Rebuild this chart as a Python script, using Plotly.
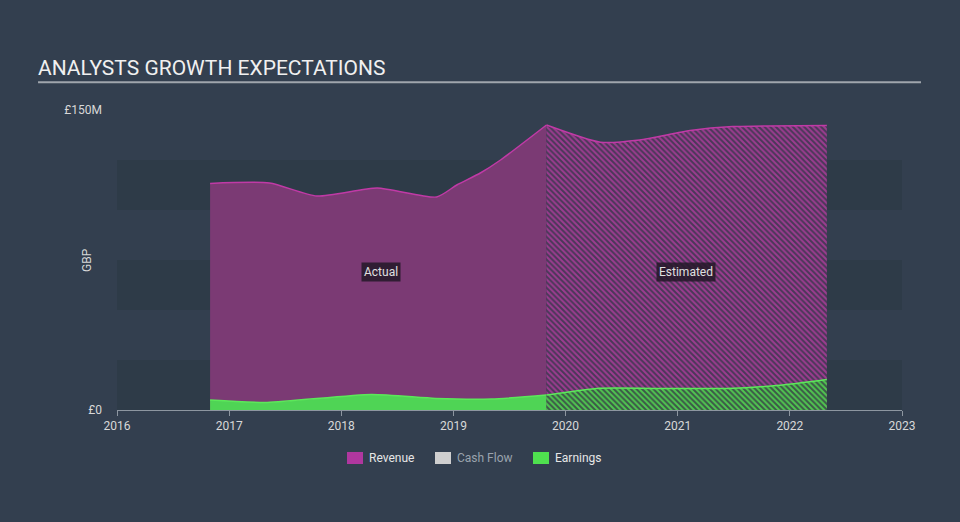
import plotly.graph_objects as go

# ---- data ----
rev_act_x = [2016.83, 2017.36, 2017.78, 2018.32, 2018.85, 2019.03, 2019.24, 2019.42, 2019.83]
rev_act_y = [113.3, 113.5, 107.0, 111.0, 106.5, 112.5, 118.5, 125.0, 142.5]
rev_est_x = [2019.83, 2020.31, 2020.66, 2021.11, 2021.49, 2022.33]
rev_est_y = [142.5, 133.9, 135.0, 139.7, 141.7, 142.3]
earn_act_x = [2016.83, 2017.34, 2018.27, 2018.84, 2019.34, 2019.83]
earn_act_y = [5.0, 3.8, 7.8, 5.8, 5.5, 7.5]
earn_est_x = [2019.83, 2020.28, 2020.8, 2021.44, 2021.91, 2022.33]
earn_est_y = [7.5, 10.8, 10.8, 10.8, 12.4, 15.3]
x_ticks = [2016, 2017, 2018, 2019, 2020, 2021, 2022, 2023]
y_ticks = [0, 150]
y_ticktext = ["£0", "£150M"]
bands = [(0, 25), (50, 75), (100, 125)]

BG = "#333f4f"
BAND = "#2e3b48"
REV_LINE = "#c03aa6"
REV_FILL = "#7b3a74"
EARN_LINE = "#5ce85a"
EARN_FILL = "#4fd455"
FONT = "Roboto"

fig = go.Figure()

fig.add_trace(go.Scatter(
    x=rev_act_x, y=rev_act_y, mode="lines", fill="tozeroy",
    line=dict(color=REV_LINE, width=1.5, shape="spline", smoothing=0.6),
    fillcolor=REV_FILL, showlegend=False, hoverinfo="skip"))
fig.add_trace(go.Scatter(
    x=rev_est_x, y=rev_est_y, mode="lines", fill="tozeroy",
    line=dict(color=REV_LINE, width=1.5, shape="spline", smoothing=0.6),
    fillpattern=dict(shape="\\", bgcolor="#4a3858", fgcolor="#9c3c90",
                     size=4, solidity=0.5, fillmode="replace"),
    showlegend=False, hoverinfo="skip"))
fig.add_trace(go.Scatter(
    x=earn_act_x, y=earn_act_y, mode="lines", fill="tozeroy",
    line=dict(color=EARN_LINE, width=1.5, shape="spline", smoothing=0.6),
    fillcolor=EARN_FILL, showlegend=False, hoverinfo="skip"))
fig.add_trace(go.Scatter(
    x=earn_est_x, y=earn_est_y, mode="lines", fill="tozeroy",
    line=dict(color=EARN_LINE, width=1.5, shape="spline", smoothing=0.6),
    fillpattern=dict(shape="\\", bgcolor="#3c5848", fgcolor="#50c650",
                     size=4, solidity=0.5, fillmode="replace"),
    showlegend=False, hoverinfo="skip"))

shapes = []
for y0, y1 in bands:
    shapes.append(dict(type="rect", xref="paper", yref="y", x0=0, x1=1, y0=y0, y1=y1,
                       fillcolor=BAND, line=dict(width=0), layer="below"))
# title underline
shapes.append(dict(type="line", xref="paper", yref="paper", x0=-0.1006, x1=1.0242,
                   y0=1.0925, y1=1.0925, line=dict(color="#a0a6ad", width=2)))
# custom legend swatches
leg = [("Revenue", "#b0379f", "#e6e6e6", 347), ("Cash Flow", "#cfcfcf", "#9aa3ad", 435),
       ("Earnings", "#4fe04f", "#e6e6e6", 533)]
annotations = []
for name, sw, tc, px in leg:
    x0 = (px - 117) / 785
    x1 = (px + 16 - 117) / 785
    shapes.append(dict(type="rect", xref="paper", yref="paper", x0=x0, x1=x1,
                       y0=(410 - 464) / 300, y1=(410 - 452) / 300,
                       fillcolor=sw, line=dict(width=0)))
    annotations.append(dict(xref="paper", yref="paper", x=(px + 20 - 117) / 785,
                            y=(410 - 458) / 300, text=name, showarrow=False,
                            xanchor="left", yanchor="middle",
                            font=dict(family=FONT, size=12, color=tc)))

annotations += [
    dict(xref="paper", yref="paper", x=(36 - 117) / 785, y=(410 - 68) / 300,
         text="ANALYSTS GROWTH EXPECTATIONS", showarrow=False, xanchor="left",
         yanchor="middle", font=dict(family=FONT, size=21, color="#f0f0f0")),
    dict(xref="paper", yref="paper", x=(87 - 117) / 785, y=(410 - 260) / 300,
         text="GBP", textangle=-90, showarrow=False, xanchor="center", yanchor="middle",
         font=dict(family=FONT, size=12, color="#d8d8d8")),
    dict(x=2018.35, y=69, text="Actual", showarrow=False,
         bgcolor="rgba(35,25,40,0.85)", borderpad=2,
         font=dict(family=FONT, size=12, color="#e0e0e0")),
    dict(x=2021.07, y=69, text="Estimated", showarrow=False,
         bgcolor="rgba(35,25,40,0.85)", borderpad=2,
         font=dict(family=FONT, size=12, color="#e0e0e0")),
]

fig.update_layout(
    width=960, height=522,
    margin=dict(l=117, r=58, t=110, b=112),
    paper_bgcolor=BG, plot_bgcolor=BG,
    shapes=shapes, annotations=annotations,
    showlegend=False,
    font=dict(family=FONT, size=12, color="#d8d8d8"),
    xaxis=dict(range=[2016, 2023], tickvals=x_ticks, ticktext=[str(t) for t in x_ticks],
               showgrid=False, zeroline=False, showline=True, linecolor="#8d96a0",
               linewidth=1, ticks="outside", ticklen=5, tickcolor="#8d96a0",
               tickfont=dict(family=FONT, size=12, color="#d8d8d8")),
    yaxis=dict(range=[0, 150], tickvals=y_ticks, ticktext=y_ticktext,
               showgrid=False, zeroline=False, showline=False, ticks="",
               ticklabelstandoff=14,
               tickfont=dict(family=FONT, size=12, color="#d8d8d8")),
)

fig.write_html("out.html", config={"displayModeBar": False},
               post_script="document.body.style.margin='0';document.body.style.overflow='hidden';")
